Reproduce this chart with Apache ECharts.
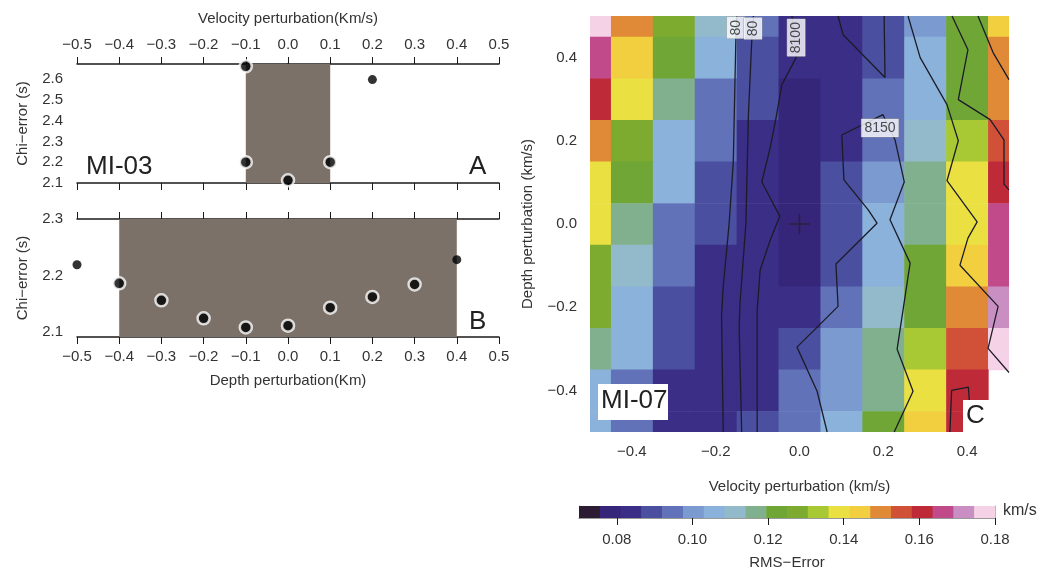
<!DOCTYPE html>
<html>
<head>
<meta charset="UTF-8">
<title></title>
<style>
  html, body { margin: 0; padding: 0; background: #fff; }
  #chart { width: 1045px; height: 571px; }
</style>
<script src="https://cdn.jsdelivr.net/npm/echarts@6/dist/echarts.min.js"></script>
</head>
<body>
<div id="chart"></div>
<script>
// panel A: MI-03, chi-error vs velocity perturbation
var velA = [-0.1, 0.2, -0.1, 0.1, 0.0];
var chiA = [2.662, 2.598, 2.2, 2.2, 2.113];
var ringA = [true, false, true, true, true];
var shadeA = [-0.1, 0.1];

// panel B: chi-error vs depth perturbation
var depthB = [-0.5, -0.4, -0.3, -0.2, -0.1, 0.0, 0.1, 0.2, 0.3, 0.4];
var chiB = [2.219, 2.186, 2.156, 2.124, 2.108, 2.111, 2.143, 2.162, 2.184, 2.228];
var ringB = [false, true, true, true, true, true, true, true, true, false];
var shadeB = [-0.4, 0.4];

// panel C: MI-07 RMS error grid, rows top (0.5) to bottom (-0.5)
var velCols = [-0.5, -0.4, -0.3, -0.2, -0.1, 0.0, 0.1, 0.2, 0.3, 0.4, 0.5];
var depthRows = [0.5, 0.4, 0.3, 0.2, 0.1, 0.0, -0.1, -0.2, -0.3, -0.4, -0.5];
var rmsGrid = [
  [0.177, 0.150, 0.128, 0.111, 0.095, 0.084, 0.084, 0.089, 0.100, 0.122, 0.144],
  [0.166, 0.144, 0.122, 0.106, 0.089, 0.084, 0.084, 0.089, 0.106, 0.122, 0.150],
  [0.161, 0.139, 0.117, 0.095, 0.089, 0.078, 0.084, 0.095, 0.106, 0.122, 0.150],
  [0.150, 0.128, 0.106, 0.095, 0.084, 0.078, 0.084, 0.095, 0.111, 0.133, 0.155],
  [0.139, 0.122, 0.106, 0.089, 0.084, 0.078, 0.089, 0.100, 0.117, 0.139, 0.161],
  [0.139, 0.117, 0.095, 0.089, 0.084, 0.078, 0.089, 0.106, 0.117, 0.139, 0.166],
  [0.128, 0.111, 0.095, 0.084, 0.084, 0.078, 0.089, 0.106, 0.122, 0.144, 0.166],
  [0.128, 0.106, 0.089, 0.084, 0.084, 0.084, 0.095, 0.111, 0.122, 0.150, 0.172],
  [0.117, 0.106, 0.089, 0.084, 0.084, 0.089, 0.100, 0.117, 0.133, 0.155, 0.177],
  [0.106, 0.095, 0.084, 0.084, 0.084, 0.095, 0.100, 0.117, 0.139, 0.161, null],
  [0.106, 0.095, 0.084, 0.084, 0.089, 0.095, 0.106, 0.122, 0.144, 0.161, null]
];
var cellTicks = [-0.4, -0.2, 0.0, 0.2, 0.4];

// velocity contours (x = velocity, y = depth)
var contour1 = [[-0.150, 0.5], [-0.152, 0.44], [-0.158, 0.15], [-0.168, 0.0], [-0.182, -0.15], [-0.186, -0.22], [-0.182, -0.5]];
var contour2 = [[-0.110, 0.5], [-0.114, 0.44], [-0.122, 0.26], [-0.128, 0.0], [-0.142, -0.19], [-0.144, -0.25], [-0.138, -0.5]];
var contour3 = [[-0.018, 0.5], [-0.008, 0.4], [-0.042, 0.335], [-0.056, 0.255], [-0.070, 0.183], [-0.090, 0.101],
  [-0.047, 0.019], [-0.070, -0.039], [-0.094, -0.111], [-0.101, -0.207], [-0.101, -0.5]];
var contour4 = [[0.066, -0.5], [0.042, -0.402], [-0.006, -0.296], [0.092, -0.198], [0.087, -0.096], [0.185, 0.002],
  [0.164, 0.034], [0.106, 0.106], [0.101, 0.214], [0.199, 0.263], [0.228, 0.202], [0.250, 0.101], [0.216, 0.010],
  [0.264, -0.094], [0.233, -0.301], [0.271, -0.402], [0.226, -0.5]];
var contour5 = [[0.092, 0.5], [0.104, 0.455], [0.204, 0.352], [0.202, 0.5]];
var contour6 = [[0.259, 0.5], [0.288, 0.4], [0.352, 0.287], [0.379, 0.200], [0.352, 0.104], [0.424, 0.005],
  [0.402, -0.034], [0.383, -0.099], [0.474, -0.198], [0.450, -0.299], [0.5, -0.357]];
var contour7 = [[0.364, 0.5], [0.402, 0.419], [0.379, 0.299], [0.455, 0.251], [0.488, 0.202], [0.488, 0.096], [0.5, 0.082]];
var contour8 = [[0.426, 0.5], [0.462, 0.412], [0.5, 0.347]];
var contour9 = [[0.359, -0.5], [0.363, -0.4], [0.403, -0.392], [0.410, -0.49], [0.410, -0.5]];
var contours = [contour1, contour2, contour3, contour4, contour5, contour6, contour7, contour8, contour9];
var contourLabelPos = [[-0.152, 0.472], [-0.111, 0.470], [-0.008, 0.448], [0.192, 0.231]];
var contourLabelText = ['80', '80', '8100', '8150'];
var contourLabelRot = [90, 90, 90, 0];
var bestFit = [[0.0, 0.0]];

// colour scale
var rmsBandEdges = [0.07, 0.0755, 0.081, 0.0865, 0.092, 0.0975, 0.103, 0.1085, 0.114, 0.1195, 0.125,
  0.1305, 0.136, 0.1415, 0.147, 0.1525, 0.158, 0.1635, 0.169, 0.1745, 0.18];
var rmsBandColors = ['#2b1b33', '#36267a', '#3b2e86', '#4a4f9f', '#6172b8', '#7b9bd0', '#8ab2da', '#92bacb',
  '#80b08e', '#6fa636', '#7cab30', '#a9c934', '#ebe042', '#f1cf3e', '#e08936', '#d05138', '#bf2a39',
  '#c04a8a', '#c98fc2', '#f5d2e6'];
var rmsTicks = [0.08, 0.10, 0.12, 0.14, 0.16, 0.18];

var font = 'Liberation Sans, Arial, Helvetica, sans-serif';
var ink = '#1a1a1a';
var txt = '#333';

function fmt(v, d) {
  return (v < -1e-9 ? '\u2212' : '') + Math.abs(v).toFixed(d);
}

var heatData = [];
depthRows.forEach(function (d, r) {
  velCols.forEach(function (v, c) {
    if (rmsGrid[r][c] != null) heatData.push([v, d, rmsGrid[r][c]]);
  });
});
var barData = rmsBandColors.map(function (c, i) {
  return [rmsBandEdges[i], rmsBandEdges[i + 1], (rmsBandEdges[i] + rmsBandEdges[i + 1]) / 2];
});

function renderCell(params, api) {
  var a = api.coord([api.value(0) - 0.05, api.value(1) + 0.05]);
  var b = api.coord([api.value(0) + 0.05, api.value(1) - 0.05]);
  var cs = params.coordSys;
  var shape = echarts.graphic.clipRectByRect(
    {x: a[0], y: a[1], width: b[0] - a[0] + 0.6, height: b[1] - a[1] + 0.6},
    {x: cs.x, y: cs.y, width: cs.width, height: cs.height});
  return shape && {type: 'rect', shape: shape, style: {fill: api.visual('color')}};
}

function renderBand(params, api) {
  var a = api.coord([api.value(0), 1]);
  var b = api.coord([api.value(1), 0]);
  return {type: 'rect', shape: {x: a[0], y: a[1], width: b[0] - a[0] + 0.5, height: b[1] - a[1]},
    style: {fill: api.visual('color')}};
}

function renderShade(params, api) {
  var a = api.coord([api.value(0), 0]);
  var b = api.coord([api.value(1), 0]);
  var cs = params.coordSys;
  return {type: 'rect', shape: {x: a[0], y: cs.y, width: b[0] - a[0], height: cs.height},
    style: {fill: '#7b7169'}};
}

function dots(xs, ys, rings) {
  return xs.map(function (x, i) {
    return {
      value: [x, ys[i]],
      symbolSize: rings[i] ? 12 : 9,
      itemStyle: {color: '#000', borderColor: '#fff', borderWidth: rings[i] ? 2.5 : 0}
    };
  });
}

// axis helpers
function frameAxis(extra) {
  var base = {
    type: 'value',
    axisLine: {show: true, lineStyle: {color: ink, width: 1.5}},
    axisTick: {show: true, inside: false, length: 7, lineStyle: {color: ink, width: 1}},
    axisLabel: {show: false},
    splitLine: {show: false},
    nameTextStyle: {fontFamily: font, fontSize: 15, color: txt},
    nameLocation: 'middle'
  };
  return Object.assign(base, extra);
}
var lab = {show: true, fontFamily: font, fontSize: 15, color: txt};

var chart = echarts.init(document.getElementById('chart'));
chart.setOption({
  animation: false,
  backgroundColor: '#fff',
  grid: [
    {left: 77, top: 64, width: 422, height: 119},
    {left: 77, top: 219, width: 422, height: 118},
    {left: 590, top: 16, width: 419, height: 416},
    {left: 579, top: 506, width: 416, height: 12}
  ],
  xAxis: [
    frameAxis({gridIndex: 0, position: 'top', min: -0.5, max: 0.5, interval: 0.1,
      name: 'Velocity perturbation(Km/s)', nameGap: 38,
      axisLabel: Object.assign({margin: 12, formatter: function (v) { return fmt(v, 1); }}, lab)}),
    frameAxis({gridIndex: 0, position: 'bottom', min: -0.5, max: 0.5, interval: 0.1}),
    frameAxis({gridIndex: 1, position: 'bottom', min: -0.5, max: 0.5, interval: 0.1,
      name: 'Depth perturbation(Km)', nameGap: 36,
      axisLabel: Object.assign({margin: 12, formatter: function (v) { return fmt(v, 1); }}, lab)}),
    frameAxis({gridIndex: 1, position: 'top', min: -0.5, max: 0.5, interval: 0.1}),
    frameAxis({gridIndex: 2, position: 'bottom', min: -0.5, max: 0.5,
      axisLine: {show: false},
      axisTick: {show: true, length: 7, customValues: cellTicks, lineStyle: {color: ink}},
      name: 'Velocity perturbation (km/s)', nameGap: 47,
      axisLabel: Object.assign({margin: 12, customValues: cellTicks, formatter: function (v) { return fmt(v, 1); }}, lab)}),
    frameAxis({gridIndex: 2, position: 'top', min: -0.5, max: 0.5, axisLine: {show: false},
      axisTick: {show: true, length: 7, customValues: cellTicks, lineStyle: {color: ink}}}),
    frameAxis({gridIndex: 3, position: 'bottom', min: 0.07, max: 0.18,
      axisLine: {show: true, lineStyle: {color: '#999', width: 1}},
      axisTick: {show: true, length: 7, customValues: rmsTicks, lineStyle: {color: ink}},
      name: 'RMS\u2212Error', nameGap: 37,
      axisLabel: Object.assign({margin: 14, customValues: rmsTicks, formatter: function (v) { return v.toFixed(2); }}, lab)}),
    frameAxis({gridIndex: 3, position: 'top', min: 0.07, max: 0.18,
      axisLine: {show: true, lineStyle: {color: '#999', width: 1}}, axisTick: {show: false}})
  ],
  yAxis: [
    frameAxis({gridIndex: 0, position: 'left', min: 2.1, max: 2.673, axisTick: {show: false},
      name: 'Chi\u2212error (s)', nameGap: 47,
      axisLabel: Object.assign({margin: 14, customValues: [2.1, 2.2, 2.3, 2.4, 2.5, 2.6],
        formatter: function (v) { return v.toFixed(1); }}, lab)}),
    frameAxis({gridIndex: 0, position: 'right', min: 2.1, max: 2.673,
      axisTick: {show: true, length: 7, customValues: [2.1, 2.2, 2.3, 2.4, 2.5, 2.6], lineStyle: {color: ink}}}),
    frameAxis({gridIndex: 1, position: 'left', min: 2.091, max: 2.3, axisTick: {show: false},
      name: 'Chi\u2212error (s)', nameGap: 47,
      axisLabel: Object.assign({margin: 14, customValues: [2.1, 2.2, 2.3],
        formatter: function (v) { return v.toFixed(1); }}, lab)}),
    frameAxis({gridIndex: 1, position: 'right', min: 2.091, max: 2.3,
      axisTick: {show: true, length: 7, customValues: [2.1, 2.2, 2.3], lineStyle: {color: ink}}}),
    frameAxis({gridIndex: 2, position: 'left', min: -0.5, max: 0.5, axisLine: {show: false},
      axisTick: {show: true, length: 6, customValues: cellTicks, lineStyle: {color: ink}},
      name: 'Depth perturbation (km/s)', nameGap: 55,
      axisLabel: Object.assign({margin: 13, customValues: cellTicks, formatter: function (v) { return fmt(v, 1); }}, lab)}),
    frameAxis({gridIndex: 2, position: 'right', min: -0.5, max: 0.5, axisLine: {show: false},
      axisTick: {show: true, length: 7, customValues: cellTicks, lineStyle: {color: ink}}}),
    frameAxis({gridIndex: 3, position: 'left', min: 0, max: 1,
      axisLine: {show: true, lineStyle: {color: '#999', width: 1}}, axisTick: {show: false}}),
    frameAxis({gridIndex: 3, position: 'right', min: 0, max: 1,
      axisLine: {show: true, lineStyle: {color: '#999', width: 1}}, axisTick: {show: false}})
  ],
  visualMap: {
    type: 'piecewise', show: false, dimension: 2, seriesIndex: [4, 5],
    pieces: rmsBandColors.map(function (c, i) {
      return {gte: rmsBandEdges[i], lt: rmsBandEdges[i + 1] + (i === rmsBandColors.length - 1 ? 1e-6 : 0), color: c};
    })
  },
  series: [
    {type: 'custom', xAxisIndex: 0, yAxisIndex: 0, renderItem: renderShade, data: [shadeA], z: 1},
    {type: 'scatter', xAxisIndex: 0, yAxisIndex: 0, clip: false, data: dots(velA, chiA, ringA), z: 3},
    {type: 'custom', xAxisIndex: 2, yAxisIndex: 2, renderItem: renderShade, data: [shadeB], z: 1},
    {type: 'scatter', xAxisIndex: 2, yAxisIndex: 2, clip: false, data: dots(depthB, chiB, ringB), z: 3},
    {type: 'custom', xAxisIndex: 4, yAxisIndex: 4, renderItem: renderCell, data: heatData, z: 1},
    {type: 'custom', xAxisIndex: 6, yAxisIndex: 6, renderItem: renderBand, data: barData, z: 1}
  ].concat(contours.map(function (c) {
    return {type: 'line', xAxisIndex: 4, yAxisIndex: 4, data: c, symbol: 'none', z: 3,
      lineStyle: {color: '#1c1c28', width: 1.3}};
  })).concat([
    {type: 'scatter', xAxisIndex: 4, yAxisIndex: 4, z: 4,
      symbol: 'path://M0,9.2H20V10.8H0ZM9.2,0H10.8V20H9.2Z', symbolSize: 20,
      itemStyle: {color: '#2a1e2e'}, data: bestFit},
    {type: 'scatter', xAxisIndex: 4, yAxisIndex: 4, z: 5, symbolSize: 2,
      itemStyle: {color: 'rgba(0,0,0,0)'},
      data: contourLabelPos.map(function (p, i) {
        return {value: p, name: contourLabelText[i], label: {rotate: contourLabelRot[i]}};
      }),
      label: {show: true, position: 'inside', formatter: '{b}', fontFamily: font, fontSize: 14, color: '#222',
        backgroundColor: '#fff', borderColor: '#999', borderWidth: 0.5, padding: [2, 3]}}
  ]),
  graphic: {
    z: 100,
    elements: [
      {type: 'text', left: 86, top: 154, z: 100, style: {text: 'MI-03', fontFamily: font, fontSize: 26, fill: '#222'}},
      {type: 'text', left: 469, top: 154, z: 100, style: {text: 'A', fontFamily: font, fontSize: 26, fill: '#222'}},
      {type: 'text', left: 469, top: 309, z: 100, style: {text: 'B', fontFamily: font, fontSize: 26, fill: '#222'}},
      {type: 'rect', left: 598, top: 384, z: 100, shape: {width: 70, height: 36}, style: {fill: '#fff'}},
      {type: 'text', left: 601, top: 388, z: 101, style: {text: 'MI-07', fontFamily: font, fontSize: 26, fill: '#222'}},
      {type: 'rect', left: 963, top: 400, z: 100, shape: {width: 27, height: 32}, style: {fill: '#fff'}},
      {type: 'text', left: 966, top: 403, z: 101, style: {text: 'C', fontFamily: font, fontSize: 26, fill: '#222'}},
      {type: 'text', left: 1003, top: 503, z: 100, style: {text: 'km/s', fontFamily: font, fontSize: 16, fill: txt}}
    ]
  }
});
</script>
</body>
</html>
